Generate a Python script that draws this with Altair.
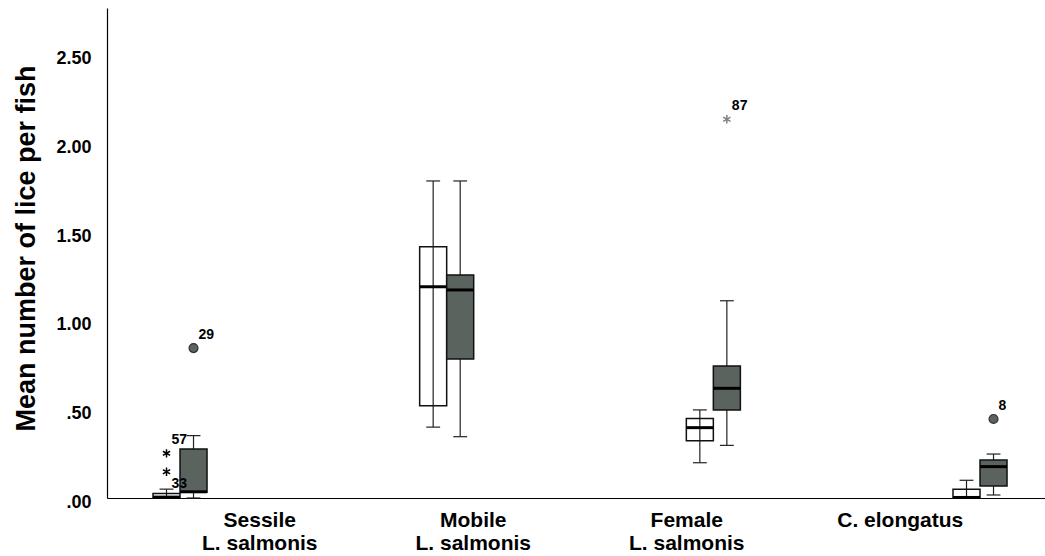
import altair as alt
import pandas as pd

# ---------------- data ----------------
categories = ["Sessile\nL. salmonis", "Mobile\nL. salmonis", "Female\nL. salmonis", "C. elongatus"]

box_cat = [0, 0, 1, 1, 2, 2, 3, 3]
box_grp = ["A", "B", "A", "B", "A", "B", "A", "B"]   # A = white boxes, B = dark boxes
whisk_lo = [0.000, 0.000, 0.400, 0.346, 0.199, 0.297, 0.000, 0.017]
q1 =       [0.000, 0.032, 0.521, 0.784, 0.323, 0.497, 0.000, 0.068]
median =   [0.005, 0.035, 1.192, 1.174, 0.397, 0.619, 0.003, 0.177]
q3 =       [0.025, 0.276, 1.418, 1.258, 0.448, 0.745, 0.049, 0.214]
whisk_hi = [0.050, 0.352, 1.789, 1.789, 0.497, 1.113, 0.100, 0.248]

out_cat = [0, 0, 0, 2, 3]
out_grp = ["A", "A", "B", "B", "B"]
out_val = [0.252, 0.148, 0.846, 2.137, 0.446]
out_kind = ["extreme", "extreme", "outlier", "extreme", "outlier"]
out_label = ["57", "33", "29", "87", "8"]

y_ticks = [0, 0.5, 1.0, 1.5, 2.0, 2.5]

# ---------------- build tables ----------------
boxes = pd.DataFrame({"cat": box_cat, "grp": box_grp, "lo": whisk_lo, "q1": q1,
                      "med": median, "q3": q3, "hi": whisk_hi})
outs = pd.DataFrame({"cat": out_cat, "grp": out_grp, "val": out_val,
                     "kind": out_kind, "label": out_label})
cats = pd.DataFrame({"cat": list(range(len(categories))), "name": categories})

W, H = 938, 490
HALF = 0.1013      # box width in category units
CAP = 0.026        # half width of whisker caps
XDOM = [-0.2738, 3.2437]
YDOM = [0, 2.765]
FONT = "Liberation Sans"
DARK = "#5b635e"

xs = alt.Scale(domain=XDOM, nice=False, zero=False)
ys = alt.Scale(domain=YDOM, nice=False, zero=False)

pos_calc = dict(
    left="datum.grp == 'A' ? datum.cat - %f : datum.cat" % HALF,
    right="datum.grp == 'A' ? datum.cat : datum.cat + %f" % HALF,
    center="datum.grp == 'A' ? datum.cat - %f : datum.cat + %f" % (HALF / 2, HALF / 2),
)

base = alt.Chart(boxes).transform_calculate(**pos_calc).transform_calculate(
    capl="datum.center - %f" % CAP, capr="datum.center + %f" % CAP)

x_axis = alt.Axis(labels=False, ticks=False, tickSize=0, grid=False, title=None,
                  domainColor="#000000", domainWidth=1.2)
y_axis = alt.Axis(values=y_ticks, ticks=False, tickSize=0, grid=False,
                  title="Mean number of lice per fish",
                  labelExpr="datum.value < 1 ? replace(format(datum.value, '.2f'), '0.', '.') : format(datum.value, '.2f')",
                  labelFont=FONT, labelFontSize=18, labelFontWeight="bold", labelColor="#000000",
                  labelPadding=16, labelOffset=4,
                  titleFont=FONT, titleFontSize=27, titleFontWeight="bold", titleColor="#000000",
                  titlePadding=15, titleY=240, domainColor="#000000", domainWidth=1.2)

whiskers = base.mark_rule(color="#222222", strokeWidth=1.2).encode(
    x=alt.X("center:Q", scale=xs, axis=x_axis),
    y=alt.Y("lo:Q", scale=ys, axis=y_axis),
    y2="hi:Q",
)
cap_lo = base.mark_rule(color="#222222", strokeWidth=1.2).encode(
    x=alt.X("capl:Q", scale=xs), x2="capr:Q", y=alt.Y("lo:Q", scale=ys))
cap_hi = base.mark_rule(color="#222222", strokeWidth=1.2).encode(
    x=alt.X("capl:Q", scale=xs), x2="capr:Q", y=alt.Y("hi:Q", scale=ys))

box = base.mark_bar(stroke="#111111", strokeWidth=1.5).encode(
    x=alt.X("left:Q", scale=xs), x2="right:Q",
    y=alt.Y("q1:Q", scale=ys), y2="q3:Q",
    fill=alt.Fill("grp:N", scale=alt.Scale(domain=["A", "B"], range=["rgba(255,255,255,0)", DARK]),
                  legend=None),
)
med = base.mark_rule(color="#000000", strokeWidth=3).encode(
    x=alt.X("left:Q", scale=xs), x2="right:Q", y=alt.Y("med:Q", scale=ys))

obase = alt.Chart(outs).transform_calculate(
    center="datum.grp == 'A' ? datum.cat - %f : datum.cat + %f" % (HALF / 2, HALF / 2))

circles = obase.transform_filter("datum.kind == 'outlier'").mark_point(
    shape="circle", filled=True, fill=DARK, stroke="#333333", strokeWidth=1.2, size=80, opacity=1
).encode(x=alt.X("center:Q", scale=xs), y=alt.Y("val:Q", scale=ys))

STAR = "M0,-1L0,1M-0.87,-0.5L0.87,0.5M-0.87,0.5L0.87,-0.5"
stars = obase.transform_filter("datum.kind == 'extreme'").mark_point(
    shape=STAR, filled=False, strokeWidth=1.5, size=70, opacity=1
).encode(
    x=alt.X("center:Q", scale=xs), y=alt.Y("val:Q", scale=ys),
    stroke=alt.Stroke("grp:N", scale=alt.Scale(domain=["A", "B"], range=["#000000", "#808080"]),
                      legend=None),
)

labels_up = obase.transform_filter("datum.label != '33'").mark_text(
    align="left", baseline="middle", dx=5, dy=-13, font=FONT, fontSize=14, fontWeight="bold",
    color="#000000"
).encode(x=alt.X("center:Q", scale=xs), y=alt.Y("val:Q", scale=ys), text="label:N")
labels_dn = obase.transform_filter("datum.label == '33'").mark_text(
    align="left", baseline="middle", dx=5, dy=12, font=FONT, fontSize=14, fontWeight="bold",
    color="#000000"
).encode(x=alt.X("center:Q", scale=xs), y=alt.Y("val:Q", scale=ys), text="label:N")

n = len(categories)
cat_text = alt.Chart(cats).transform_calculate(
    lx="%f + (datum.cat + 0.5) * (%f - %f) / %d" % (-HALF, (n - 1) + HALF, -HALF, n)
).mark_text(
    align="center", baseline="top", lineBreak="\n", font=FONT, fontSize=21, fontWeight="bold",
    color="#000000", lineHeight=23
).encode(x=alt.X("lx:Q", scale=xs), y=alt.value(H + 12), text="name:N")

chart = alt.layer(whiskers, cap_lo, cap_hi, box, med, circles, stars, labels_up, labels_dn,
                  cat_text).properties(
    width=W, height=H,
    autosize=alt.AutoSizeParams(type="none"),
    padding={"left": 107, "top": 8, "right": 0, "bottom": 58},
    background="white",
).configure_view(stroke=None)

chart.save("out.html", embed_options={"renderer": "svg", "actions": False})
